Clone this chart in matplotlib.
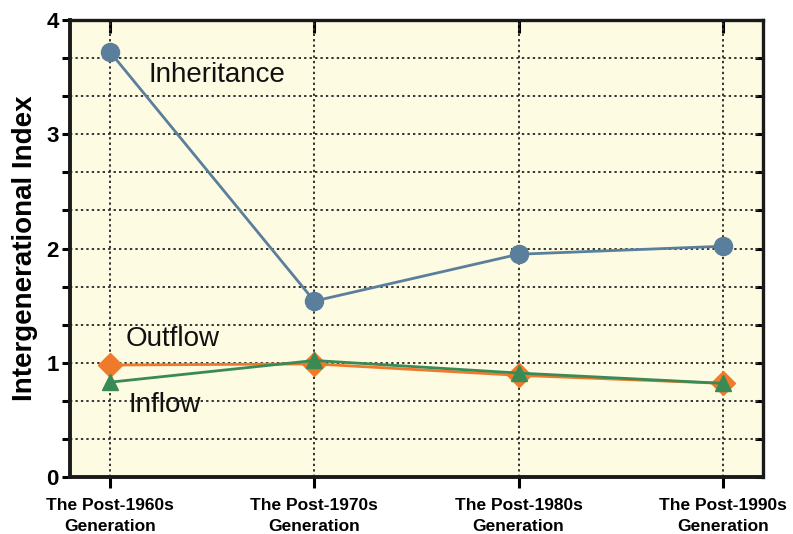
import matplotlib
matplotlib.use("Agg")
import matplotlib.pyplot as plt
import numpy as np

categories = ["The Post-1960s\nGeneration", "The Post-1970s\nGeneration",
              "The Post-1980s\nGeneration", "The Post-1990s\nGeneration"]
inheritance = [3.72, 1.54, 1.95, 2.02]
outflow = [0.98, 0.99, 0.89, 0.82]
inflow = [0.83, 1.02, 0.91, 0.82]

plt.rcParams['font.family'] = ['Liberation Sans', 'DejaVu Sans']

fig = plt.figure(figsize=(7.93, 5.34), dpi=100)
ax = fig.add_axes([0.0883, 0.1067, 0.962 - 0.0883, 0.9625 - 0.1067])
ax.set_facecolor('#fdfbe1')

x = np.arange(len(categories))
ax.plot(x, outflow, color='#ef7a2a', lw=2.0, marker='D', ms=12, zorder=3)
ax.plot(x, inflow, color='#3a8a55', lw=2.0, marker='^', ms=12, zorder=4)
ax.plot(x, inheritance, color='#5a7f9c', lw=2.0, marker='o', ms=13, zorder=5)

ax.set_xlim(-0.196, 3.196)
ax.set_ylim(0, 4)

yt_minor = [i / 3 for i in range(13) if i % 3 != 0]
ax.set_yticks([0, 1, 2, 3, 4])
ax.set_yticks(yt_minor, minor=True)
ax.set_xticks(x)
ax.set_xticklabels(categories, fontsize=12.5, fontweight='bold', linespacing=1.5)
ax.set_yticklabels(['0', '1', '2', '3', '4'], fontsize=16, fontweight='bold')

for yy in list(yt_minor) + [1, 2, 3]:
    ax.axhline(yy, color='#333333', lw=1.4, ls=(0, (1.2, 1.6)), zorder=1)
for xx in x:
    ax.axvline(xx, color='#333333', lw=1.4, ls=(0, (1.2, 1.6)), zorder=1)

for name, s in ax.spines.items():
    s.set_color('#1a1a1a')
    s.set_linewidth(2.8 if name in ('left', 'bottom') else 2.4)

ax.tick_params(axis='y', which='both', left=True, right=False, direction='out',
               length=6, width=2.2, pad=2)
ax.tick_params(axis='x', which='both', bottom=True, top=False, direction='out',
               length=8, width=2.2, pad=7)

# Inward ticks on right and top (secondary axes)
axr = ax.secondary_yaxis('right')
axr.set_yticks([0, 1, 2, 3, 4])
axr.set_yticks(yt_minor, minor=True)
axr.tick_params(axis='y', which='both', direction='in', length=6, width=2.2, labelright=False)
axr.spines['right'].set_visible(False)
axt = ax.secondary_xaxis('top')
axt.set_xticks(x)
axt.tick_params(axis='x', which='both', direction='in', length=9, width=2.2, labeltop=False)
axt.spines['top'].set_visible(False)

ax.set_ylabel('Intergenerational Index', fontsize=20, fontweight='bold', labelpad=6)

ax.text(0.19, 3.52, 'Inheritance', fontsize=20, va='center', ha='left', color='#111111')
ax.text(0.075, 1.21, 'Outflow', fontsize=20, va='center', ha='left', color='#111111')
ax.text(0.09, 0.63, 'Inflow', fontsize=20, va='center', ha='left', color='#111111')

fig.savefig('out.png', dpi=100)
